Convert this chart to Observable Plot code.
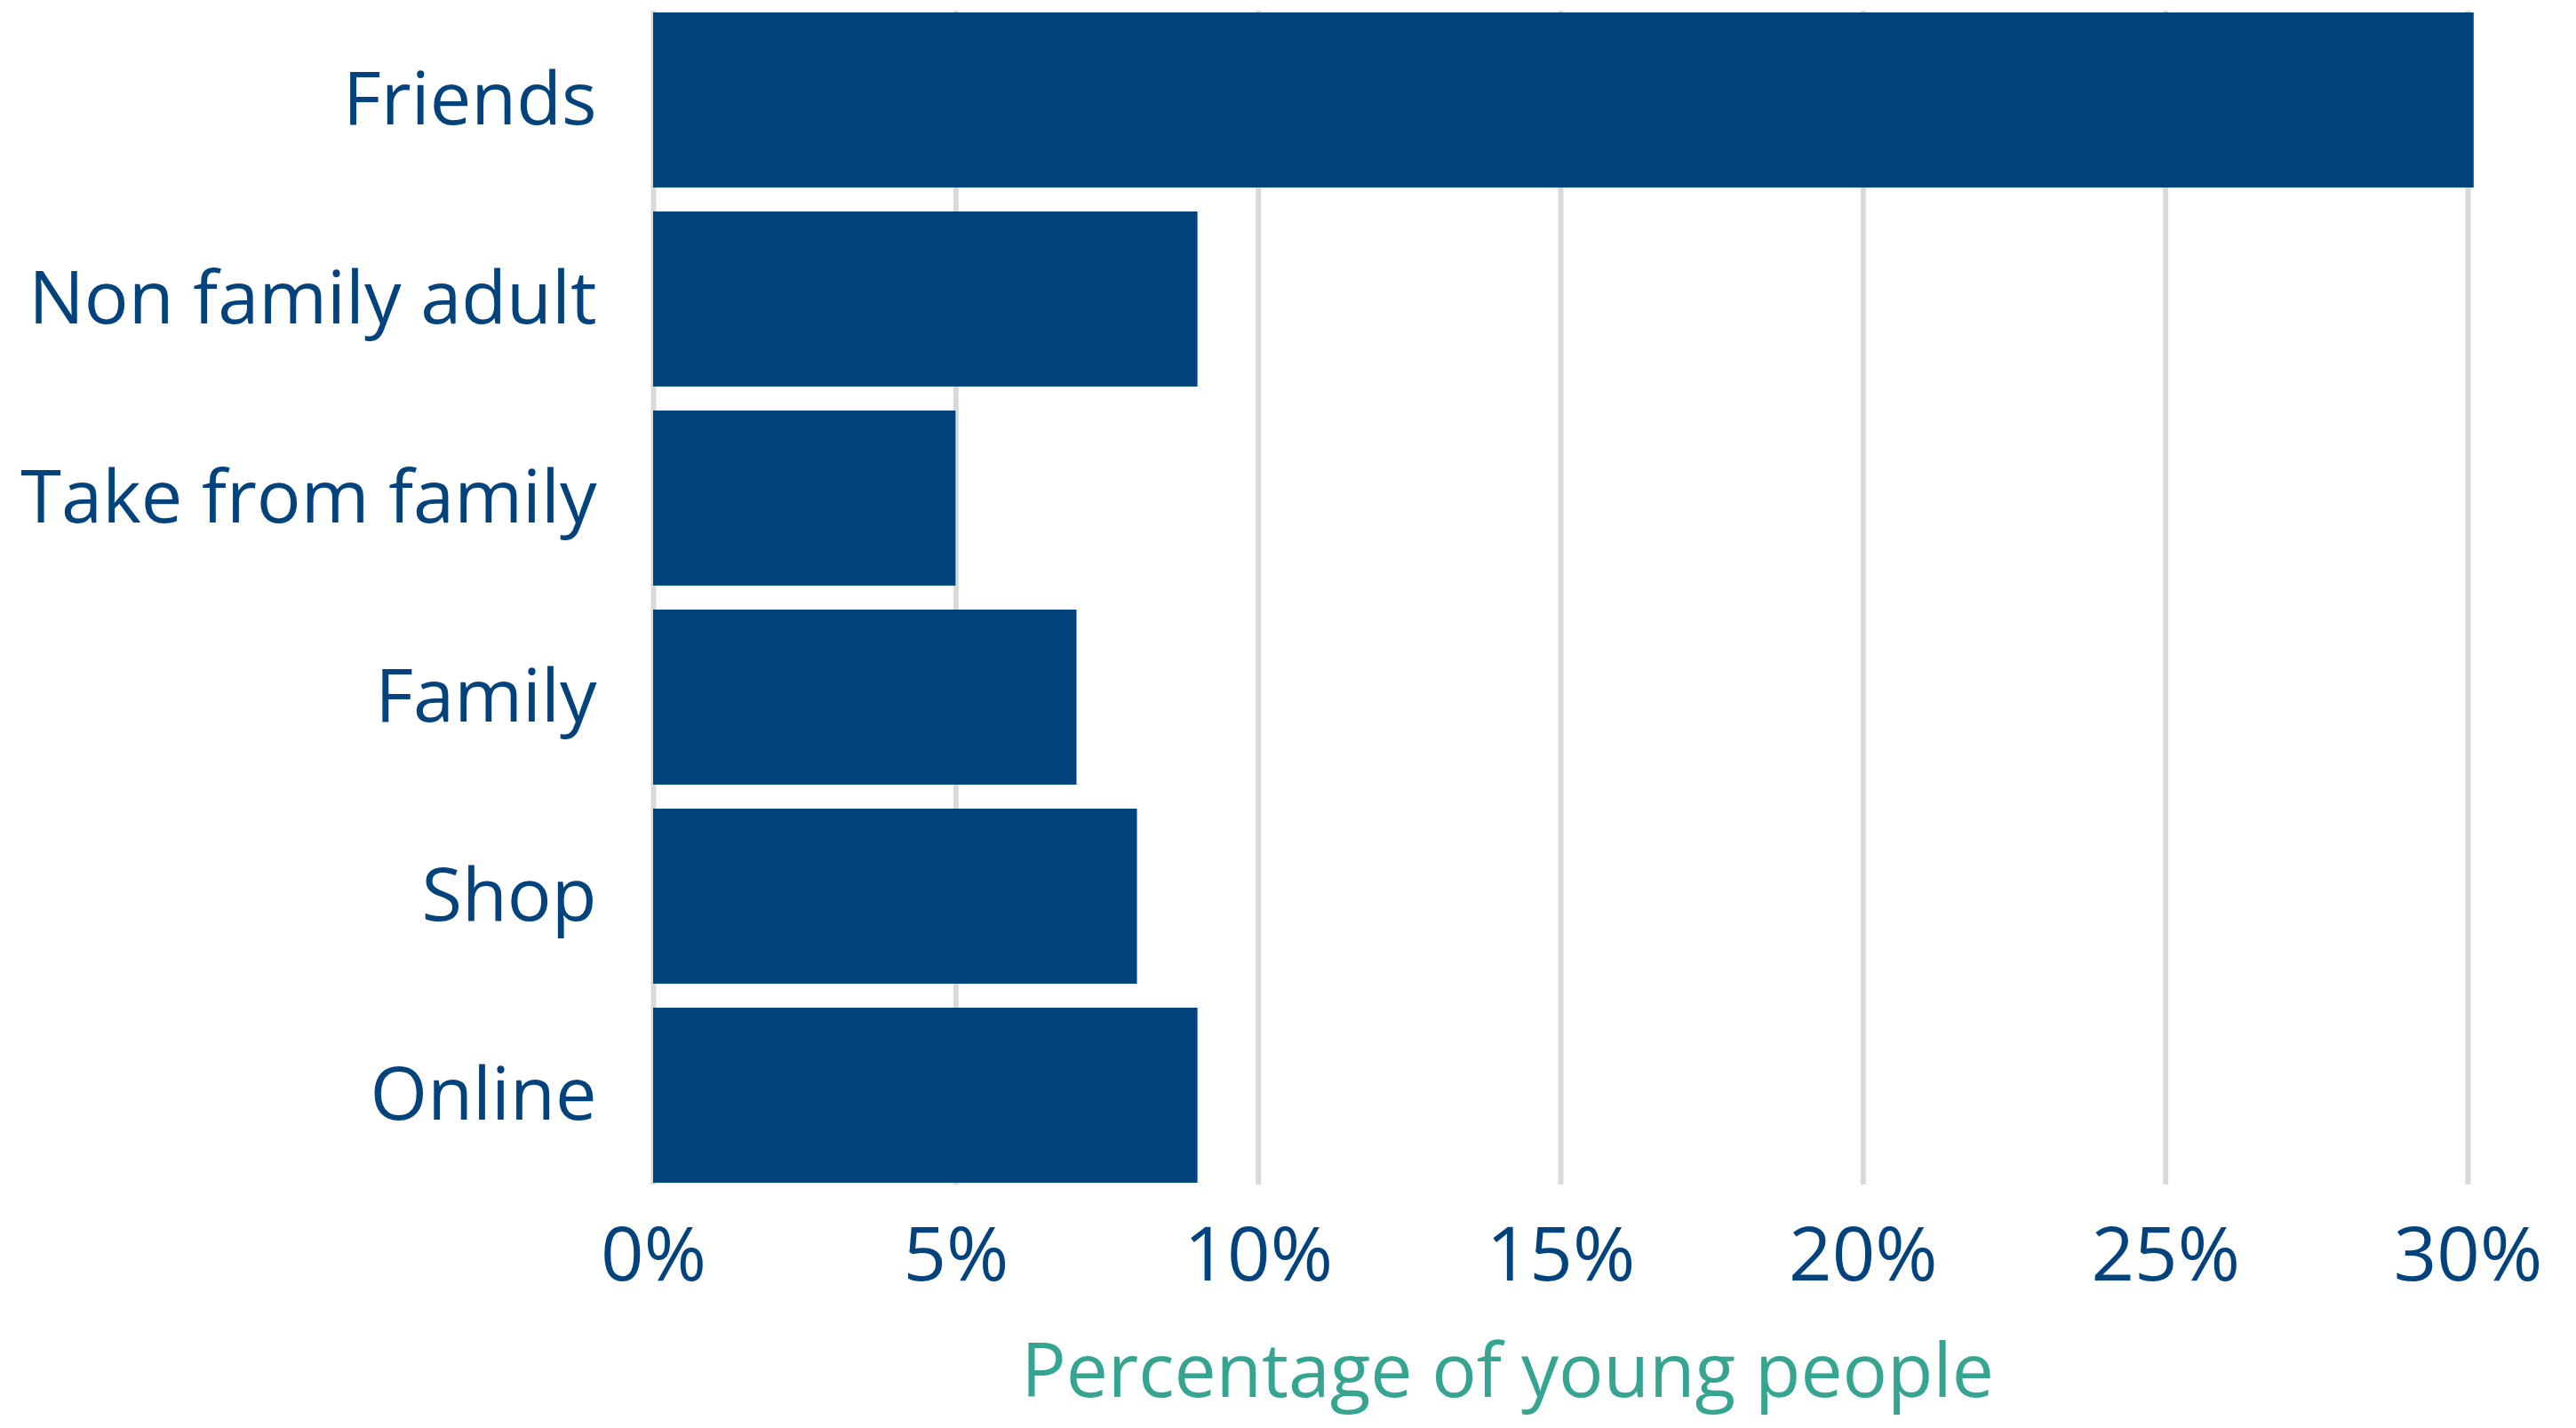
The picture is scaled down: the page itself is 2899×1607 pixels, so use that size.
<!DOCTYPE html>
<html>
<head>
<meta charset="utf-8">
<script src="https://cdn.jsdelivr.net/npm/d3@7"></script>
<script src="https://cdn.jsdelivr.net/npm/@observablehq/plot@0.6"></script>
<style>
  html, body { margin: 0; padding: 0; background: #ffffff; }
  #chart svg { display: block; }
</style>
</head>
<body>
<div id="chart"></div>
<script>
const categories = ["Friends", "Non family adult", "Take from family", "Family", "Shop", "Online"];
const values = [30.1, 9, 5, 7, 8, 9];
const xTicks = [0, 5, 10, 15, 20, 25, 30];
const xLabel = "Percentage of young people";

const data = categories.map((c, i) => ({category: c, value: values[i]}));

const barColor = "#02437d";
const textColor = "#02437d";
const titleColor = "#35a592";
const gridColor = "#d9d9d9";

const chart = Plot.plot({
  width: 2899,
  height: 1607,
  marginLeft: 735,
  marginRight: 122,
  marginTop: 12,
  marginBottom: 274,
  style: {fontFamily: "'Open Sans', sans-serif", background: "#ffffff"},
  x: {domain: [0, 30]},
  y: {domain: categories, paddingInner: 0.12, paddingOuter: 0},
  marks: [
    Plot.gridX(xTicks, {stroke: gridColor, strokeWidth: 6, strokeOpacity: 1}),
    Plot.barX(data, {y: "category", x: "value", fill: barColor}),
    Plot.axisX({ticks: xTicks, tickFormat: d => d + "%", tickSize: 0, tickPadding: 47,
      fontSize: 85, color: textColor, label: null}),
    Plot.axisY({tickSize: 0, tickPadding: 64, fontSize: 83, color: textColor, label: null}),
    Plot.text([xLabel], {frameAnchor: "bottom", text: d => d, fontSize: 84, fill: titleColor,
      dx: -60, dy: 238, lineAnchor: "bottom"})
  ]
});
document.getElementById("chart").appendChild(chart);
</script>
</body>
</html>
